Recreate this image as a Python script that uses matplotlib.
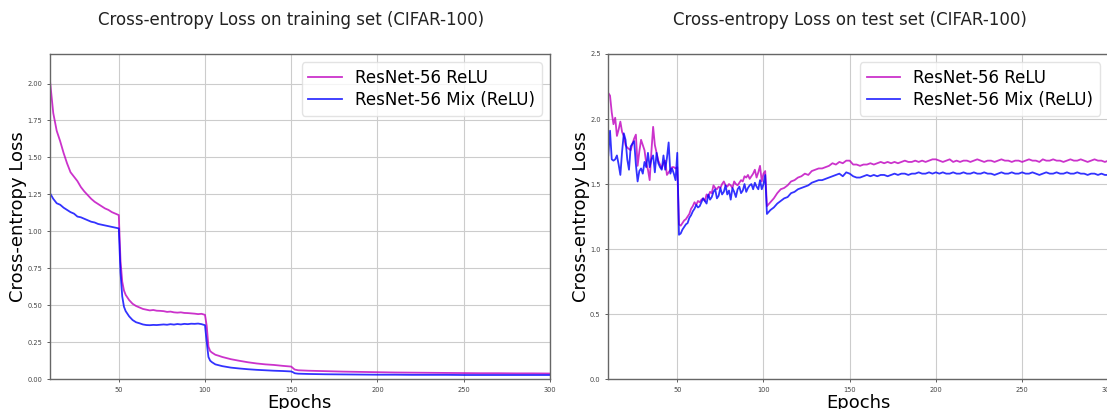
import numpy as np
from matplotlib import pyplot as plt

train_epochs = [10, 12, 14, 16, 18, 20, 22, 24, 26, 28,
                30, 32, 34, 36, 38, 40, 42, 44, 46, 48, 50,
                51, 52, 53, 54, 56, 58, 60, 62, 64, 66, 68, 70, 72, 74, 76, 78,
                80, 82, 84, 86, 88, 90, 92, 94, 96, 98, 100,
                101, 102, 103, 104, 106, 108, 110, 115, 120, 125, 130, 135, 140, 145, 150,
                151, 152, 154, 160, 170, 180, 190, 200, 210, 220, 230, 240, 250,
                260, 270, 280, 290, 300]

train_relu = [2.03, 1.80, 1.68, 1.61, 1.53, 1.46, 1.40, 1.37, 1.34, 1.30,
              1.27, 1.245, 1.22, 1.20, 1.185, 1.17, 1.155, 1.145, 1.13, 1.12, 1.11,
              0.80, 0.66, 0.60, 0.57, 0.535, 0.51, 0.495, 0.485, 0.475, 0.47, 0.465, 0.468, 0.463, 0.462, 0.46, 0.455,
              0.457, 0.452, 0.45, 0.452, 0.448, 0.447, 0.445, 0.443, 0.44, 0.442, 0.435,
              0.36, 0.22, 0.19, 0.18, 0.165, 0.158, 0.15, 0.135, 0.124, 0.114, 0.106, 0.10, 0.096, 0.09, 0.085,
              0.075, 0.065, 0.06, 0.057, 0.054, 0.051, 0.049, 0.047, 0.045, 0.044, 0.043, 0.042, 0.041,
              0.04, 0.04, 0.039, 0.039, 0.038]

train_mix = [1.26, 1.22, 1.19, 1.18, 1.16, 1.145, 1.13, 1.12, 1.10, 1.095,
             1.085, 1.075, 1.065, 1.06, 1.05, 1.045, 1.04, 1.035, 1.03, 1.025, 1.02,
             0.72, 0.56, 0.49, 0.46, 0.425, 0.40, 0.385, 0.378, 0.37, 0.366, 0.365, 0.367, 0.366, 0.368, 0.37, 0.368,
             0.372, 0.369, 0.373, 0.37, 0.374, 0.372, 0.375, 0.374, 0.376, 0.372, 0.365,
             0.25, 0.15, 0.125, 0.115, 0.10, 0.094, 0.088, 0.078, 0.072, 0.067, 0.063, 0.06, 0.057, 0.055, 0.052,
             0.047, 0.04, 0.037, 0.035, 0.033, 0.032, 0.031, 0.03, 0.03, 0.029, 0.029, 0.029, 0.028,
             0.028, 0.028, 0.028, 0.028, 0.028]

# test curves: every epoch up to 101, then every second epoch
test_epochs = list(range(10, 102)) + list(range(102, 301, 2))

test_relu = [2.20, 2.18, 2.05, 1.96, 2.01, 1.87, 1.92, 1.98, 1.90, 1.87,
             1.80, 1.78, 1.77, 1.76, 1.81, 1.85, 1.88, 1.64, 1.75, 1.84,
             1.80, 1.76, 1.66, 1.61, 1.53, 1.75, 1.94, 1.80, 1.74, 1.68,
             1.65, 1.62, 1.66, 1.68, 1.57, 1.59, 1.61, 1.63, 1.63, 1.62, 1.63,
             1.19, 1.18, 1.20, 1.22, 1.23, 1.25, 1.27, 1.31, 1.33, 1.36,
             1.34, 1.37, 1.36, 1.38, 1.39, 1.37, 1.42, 1.40, 1.44, 1.43,
             1.49, 1.47, 1.46, 1.48, 1.47, 1.50, 1.52, 1.49, 1.48, 1.50,
             1.49, 1.47, 1.52, 1.50, 1.49, 1.51, 1.53, 1.52, 1.56, 1.55,
             1.57, 1.54, 1.56, 1.58, 1.61, 1.55, 1.59, 1.64, 1.52, 1.58, 1.60,
             # from epoch 102, step 2
             1.33, 1.36, 1.39, 1.43, 1.46, 1.47, 1.49, 1.52, 1.53, 1.55,
             1.56, 1.58, 1.57, 1.60, 1.61, 1.62, 1.62, 1.63, 1.64, 1.66,
             1.65, 1.67, 1.66, 1.68, 1.68, 1.65, 1.65, 1.64, 1.65, 1.65,
             1.66, 1.65, 1.66, 1.67, 1.66, 1.67, 1.66, 1.67, 1.66, 1.67,
             1.68, 1.67, 1.67, 1.68, 1.67, 1.68, 1.67, 1.68, 1.69, 1.69,
             1.68, 1.67, 1.68, 1.69, 1.67, 1.68, 1.67, 1.68, 1.68, 1.67,
             1.68, 1.69, 1.68, 1.67, 1.68, 1.68, 1.67, 1.68, 1.69, 1.68,
             1.68, 1.67, 1.68, 1.68, 1.67, 1.68, 1.69, 1.68, 1.68, 1.67,
             1.69, 1.68, 1.68, 1.69, 1.68, 1.68, 1.67, 1.68, 1.69, 1.68,
             1.68, 1.69, 1.68, 1.67, 1.68, 1.69, 1.68, 1.68, 1.67, 1.68]

test_mix = [1.72, 1.91, 1.69, 1.68, 1.69, 1.72, 1.65, 1.57, 1.75, 1.89,
            1.84, 1.69, 1.61, 1.79, 1.81, 1.83, 1.65, 1.52, 1.60, 1.62,
            1.58, 1.67, 1.63, 1.74, 1.63, 1.69, 1.72, 1.59, 1.74, 1.66,
            1.63, 1.61, 1.72, 1.61, 1.70, 1.82, 1.58, 1.62, 1.58, 1.53, 1.74,
            1.11, 1.12, 1.15, 1.17, 1.19, 1.20, 1.24, 1.26, 1.29, 1.31,
            1.34, 1.32, 1.33, 1.36, 1.39, 1.37, 1.35, 1.42, 1.38, 1.40,
            1.44, 1.46, 1.39, 1.41, 1.47, 1.42, 1.44, 1.49, 1.42, 1.45,
            1.38, 1.47, 1.44, 1.40, 1.46, 1.48, 1.43, 1.45, 1.50, 1.44,
            1.47, 1.49, 1.50, 1.46, 1.51, 1.48, 1.46, 1.53, 1.46, 1.50, 1.57,
            # from epoch 102, step 2
            1.27, 1.30, 1.32, 1.35, 1.37, 1.39, 1.40, 1.43, 1.44, 1.46,
            1.47, 1.48, 1.49, 1.51, 1.52, 1.53, 1.53, 1.54, 1.55, 1.56,
            1.57, 1.58, 1.56, 1.59, 1.58, 1.56, 1.55, 1.55, 1.56, 1.57,
            1.56, 1.57, 1.56, 1.57, 1.57, 1.56, 1.57, 1.58, 1.57, 1.58,
            1.58, 1.57, 1.58, 1.58, 1.59, 1.58, 1.58, 1.59, 1.58, 1.59,
            1.58, 1.59, 1.58, 1.58, 1.59, 1.58, 1.58, 1.59, 1.58, 1.58,
            1.59, 1.58, 1.58, 1.59, 1.58, 1.58, 1.57, 1.58, 1.59, 1.58,
            1.58, 1.59, 1.58, 1.58, 1.59, 1.58, 1.58, 1.59, 1.58, 1.57,
            1.58, 1.59, 1.58, 1.58, 1.59, 1.58, 1.58, 1.59, 1.58, 1.58,
            1.59, 1.58, 1.58, 1.57, 1.58, 1.58, 1.57, 1.58, 1.57, 1.57]

names = ["ResNet-56 ReLU", "ResNet-56 Mix (ReLU)"]
titles = ["Cross-entropy Loss on training set (CIFAR-100)",
          "Cross-entropy Loss on test set (CIFAR-100)"]

fig = plt.figure(figsize=(11.07, 4.09), dpi=100)
ax1 = fig.add_axes([0.045, 0.073, 0.4517, 0.795])
ax2 = fig.add_axes([0.5495, 0.073, 0.4517, 0.795])

ax1.plot(train_epochs, train_relu, color="m", alpha=0.8, lw=1.3, label=names[0])
ax1.plot(train_epochs, train_mix, color="b", alpha=0.8, lw=1.3, label=names[1])
ax2.plot(test_epochs, test_relu, color="m", alpha=0.8, lw=1.3, label=names[0])
ax2.plot(test_epochs, test_mix, color="b", alpha=0.8, lw=1.3, label=names[1])

ax1.set_ylim(0, 2.2)
ax1.set_yticks(np.arange(0, 2.01, 0.25))
ax1.yaxis.set_major_formatter(plt.FormatStrFormatter("%.2f"))
ax2.set_ylim(0, 2.5)
ax2.set_yticks(np.arange(0, 2.51, 0.5))
ax2.yaxis.set_major_formatter(plt.FormatStrFormatter("%.1f"))

for ax, t in zip([ax1, ax2], titles):
    ax.set_xlim(10, 300)
    ax.set_xticks([50, 100, 150, 200, 250, 300])
    ax.grid(True, color="#cccccc", lw=0.8)
    ax.set_axisbelow(True)
    for s in ax.spines.values():
        s.set_color("#666666")
        s.set_linewidth(1.0)
    ax.tick_params(labelsize=4.8, colors="#444444", length=2, width=0.6)
    ax.set_title(t, fontsize=12, pad=21, color="#222222", x=0.483)
    ax.set_xlabel("Epochs", fontsize=13, labelpad=1)
    ax.set_ylabel("Cross-entropy Loss", fontsize=13, labelpad=0)
    ax.legend(loc="upper right", fontsize=12, frameon=True, framealpha=0.8,
              edgecolor="#dddddd", borderaxespad=0.5, handlelength=2.0,
              labelspacing=0.25)

fig.savefig("out.png", dpi=100)
